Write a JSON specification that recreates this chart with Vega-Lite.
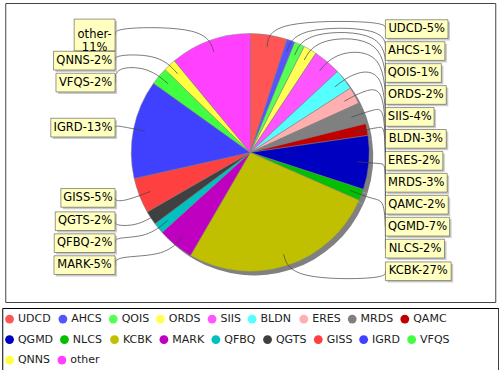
{
  "$schema": "https://vega.github.io/schema/vega-lite/v6.json",
  "padding": {"left": 1, "top": 2, "right": 0, "bottom": 0},
  "background": "white",
  "config": {"font": "DejaVu Sans", "concat": {"spacing": 4}},
  "center": true,
  "datasets": {
    "pie": [
      {"cat": "UDCD", "value": 5.0, "label": "UDCD-5%"},
      {"cat": "AHCS", "value": 1.1, "label": "AHCS-1%"},
      {"cat": "QOIS", "value": 1.4, "label": "QOIS-1%"},
      {"cat": "ORDS", "value": 1.8, "label": "ORDS-2%"},
      {"cat": "SIIS", "value": 3.8, "label": "SIIS-4%"},
      {"cat": "BLDN", "value": 2.8, "label": "BLDN-3%"},
      {"cat": "ERES", "value": 2.3, "label": "ERES-2%"},
      {"cat": "MRDS", "value": 2.9, "label": "MRDS-3%"},
      {"cat": "QAMC", "value": 1.6, "label": "QAMC-2%"},
      {"cat": "QGMD", "value": 7.3, "label": "QGMD-7%"},
      {"cat": "NLCS", "value": 1.55, "label": "NLCS-2%"},
      {"cat": "KCBK", "value": 26.8, "label": "KCBK-27%"},
      {"cat": "MARK", "value": 4.9, "label": "MARK-5%"},
      {"cat": "QFBQ", "value": 1.5, "label": "QFBQ-2%"},
      {"cat": "QGTS", "value": 1.9, "label": "QGTS-2%"},
      {"cat": "GISS", "value": 4.8, "label": "GISS-5%"},
      {"cat": "IGRD", "value": 13.4, "label": "IGRD-13%"},
      {"cat": "VFQS", "value": 2.4, "label": "VFQS-2%"},
      {"cat": "QNNS", "value": 1.7, "label": "QNNS-2%"},
      {"cat": "other", "value": 11.0, "label": "other-\n11%"}
    ]
  },
  "vconcat": [
    {
      "width": 490,
      "height": 299,
      "view": {"stroke": "#444444", "strokeWidth": 1},
      "data": {"name": "pie"},
      "transform": [
        {"window": [{"op": "row_number", "as": "k"}]},
        {"joinaggregate": [{"op": "sum", "field": "value", "as": "total"}]},
        {"window": [{"op": "sum", "field": "value", "as": "cum"}], "sort": [{"field": "k"}], "frame": [null, 0]},
        {"calculate": "2*PI*(datum.cum - datum.value/2)/datum.total", "as": "ang"},
        {"calculate": "sin(datum.ang)", "as": "sx"},
        {"calculate": "cos(datum.ang)", "as": "cy"},
        {"calculate": "datum.sx >= 0 ? 1 : -1", "as": "side"},
        {"calculate": "-1.05*datum.cy", "as": "d"},
        {"window": [{"op": "row_number", "as": "rn"}], "groupby": ["side"], "sort": [{"field": "d", "order": "ascending"}]},
        {"calculate": "datum.d - (datum.rn-1)*0.1845", "as": "t"},
        {"window": [{"op": "max", "field": "t", "as": "m"}], "groupby": ["side"], "sort": [{"field": "d", "order": "ascending"}], "frame": [null, 0]},
        {"calculate": "-((datum.rn-1)*0.1845 + datum.m)", "as": "ly"},
        {"calculate": "split(datum.label, '\\n')[0]", "as": "l1"},
        {"calculate": "length(split(datum.label, '\\n')) > 1 ? split(datum.label, '\\n')[1] : ''", "as": "l2"},
        {"calculate": "length(split(datum.label, '\\n'))", "as": "nl"},
        {"calculate": "0.72*length(datum.l1) + 0.23*(length(datum.l1)-length(replace(datum.l1, regexp('%','g'), ''))) - 0.425*(length(datum.l1)-length(replace(datum.l1, regexp('I','g'), ''))) - 0.36*(length(datum.l1)-length(replace(datum.l1, regexp('-','g'), ''))) - 0.085*(length(datum.l1)-length(replace(datum.l1, regexp('[0-9]','g'), ''))) - 0.1*(length(datum.l1)-length(replace(datum.l1, regexp('[a-z]','g'), ''))) - 0.3*(length(datum.l1)-length(replace(datum.l1, regexp('[tr]','g'), ''))) + 0.06*(length(datum.l1)-length(replace(datum.l1, regexp('[MOQGDNU]','g'), ''))) + 0.08*(length(datum.l1)-length(replace(datum.l1, regexp('M','g'), ''))) - 0.09*(length(datum.l1)-length(replace(datum.l1, regexp('[FLESKT]','g'), '')))", "as": "e1"},
        {"calculate": "0.72*length(datum.l2) + 0.23*(length(datum.l2)-length(replace(datum.l2, regexp('%','g'), ''))) - 0.425*(length(datum.l2)-length(replace(datum.l2, regexp('I','g'), ''))) - 0.36*(length(datum.l2)-length(replace(datum.l2, regexp('-','g'), ''))) - 0.085*(length(datum.l2)-length(replace(datum.l2, regexp('[0-9]','g'), ''))) - 0.1*(length(datum.l2)-length(replace(datum.l2, regexp('[a-z]','g'), ''))) - 0.3*(length(datum.l2)-length(replace(datum.l2, regexp('[tr]','g'), ''))) + 0.06*(length(datum.l2)-length(replace(datum.l2, regexp('[MOQGDNU]','g'), ''))) + 0.08*(length(datum.l2)-length(replace(datum.l2, regexp('M','g'), ''))) - 0.09*(length(datum.l2)-length(replace(datum.l2, regexp('[FLESKT]','g'), '')))", "as": "e2"},
        {"calculate": "(max(datum.e1, datum.e2)*11.5 + (datum.nl > 1 ? 8 : 5))/119", "as": "w"},
        {"calculate": "(datum.nl*13 + 5.7)/119", "as": "h"},
        {"calculate": "datum.side*1.136", "as": "bx1"},
        {"calculate": "datum.side*1.136 + datum.side*datum.w", "as": "bx2"},
        {"calculate": "datum.side*1.136 + datum.side*datum.w/2", "as": "tx"},
        {"calculate": "datum.ly - datum.h/2", "as": "by1"},
        {"calculate": "datum.ly + datum.h/2", "as": "by2"}
      ],
      "layer": [
        {
          "mark": {"type": "arc", "outerRadius": 119, "color": "#808080", "xOffset": 4, "yOffset": 4},
          "encoding": {
            "theta": {"field": "value", "type": "quantitative", "stack": true},
            "order": {"field": "k", "type": "quantitative"}
          }
        },
        {
          "mark": {"type": "arc", "outerRadius": 119, "stroke": "#808080", "strokeWidth": 0.5},
          "encoding": {
            "theta": {"field": "value", "type": "quantitative", "stack": true},
            "order": {"field": "k", "type": "quantitative"},
            "color": {
              "field": "cat",
              "type": "nominal",
              "scale": {
                "domain": ["UDCD", "AHCS", "QOIS", "ORDS", "SIIS", "BLDN", "ERES", "MRDS", "QAMC", "QGMD", "NLCS", "KCBK", "MARK", "QFBQ", "QGTS", "GISS", "IGRD", "VFQS", "QNNS", "other"],
                "range": ["#FF5555", "#5555FF", "#55FF55", "#FFFF55", "#FF55FF", "#55FFFF", "#FFAFAF", "#808080", "#C00000", "#0000C0", "#00C000", "#C0C000", "#C000C0", "#00C0C0", "#404040", "#FF4040", "#4040FF", "#40FF40", "#FFFF40", "#FF40FF"]
              },
              "legend": null
            }
          }
        },
        {
          "transform": [
            {"calculate": "[0.9*datum.sx, 1.12*datum.sx, datum.side*1.136, datum.side*1.136]", "as": "px"},
            {"calculate": "[0.9*datum.cy, 1.12*datum.cy, 1.12*datum.cy, datum.ly]", "as": "py"},
            {"flatten": ["px", "py"]},
            {"window": [{"op": "row_number", "as": "pi"}], "groupby": ["cat"]}
          ],
          "mark": {"type": "line", "interpolate": "basis", "stroke": "#444444", "strokeWidth": 0.7},
          "encoding": {
            "x": {"field": "px", "type": "quantitative", "scale": {"domain": [-2.0588, 2.0588], "nice": false, "zero": false}, "axis": null},
            "y": {"field": "py", "type": "quantitative", "scale": {"domain": [-1.2563, 1.2563], "nice": false, "zero": false}, "axis": null},
            "detail": {"field": "cat", "type": "nominal"},
            "order": {"field": "pi", "type": "quantitative"}
          }
        },
        {
          "mark": {"type": "rect", "fill": "#979797", "opacity": 0.5, "xOffset": 2, "x2Offset": 2, "yOffset": 2, "y2Offset": 2},
          "encoding": {
            "x": {"field": "bx1", "type": "quantitative", "scale": {"domain": [-2.0588, 2.0588], "nice": false, "zero": false}, "axis": null},
            "x2": {"field": "bx2"},
            "y": {"field": "by1", "type": "quantitative", "scale": {"domain": [-1.2563, 1.2563], "nice": false, "zero": false}, "axis": null},
            "y2": {"field": "by2"}
          }
        },
        {
          "mark": {"type": "rect", "fill": "#FFFFC0", "stroke": "#333333", "strokeWidth": 0.5},
          "encoding": {
            "x": {"field": "bx1", "type": "quantitative", "scale": {"domain": [-2.0588, 2.0588], "nice": false, "zero": false}, "axis": null},
            "x2": {"field": "bx2"},
            "y": {"field": "by1", "type": "quantitative", "scale": {"domain": [-1.2563, 1.2563], "nice": false, "zero": false}, "axis": null},
            "y2": {"field": "by2"}
          }
        },
        {
          "mark": {"type": "text", "fontSize": 11.5, "lineBreak": "\n", "lineHeight": 13, "align": "center", "baseline": "middle", "color": "#000000"},
          "encoding": {
            "x": {"field": "tx", "type": "quantitative", "scale": {"domain": [-2.0588, 2.0588], "nice": false, "zero": false}, "axis": null},
            "y": {"field": "ly", "type": "quantitative", "scale": {"domain": [-1.2563, 1.2563], "nice": false, "zero": false}, "axis": null},
            "text": {"field": "label", "type": "nominal"}
          }
        }
      ]
    },
    {
      "width": 496,
      "height": 62,
      "view": {"stroke": "#000000", "strokeWidth": 1},
      "data": {"name": "pie"},
      "transform": [
        {"window": [{"op": "row_number", "as": "k"}]},
        {"calculate": "floor((datum.k-1)/9)", "as": "row"},
        {"calculate": "0.72*length(datum.cat) - 0.425*(length(datum.cat)-length(replace(datum.cat, regexp('I','g'), ''))) - 0.1*(length(datum.cat)-length(replace(datum.cat, regexp('[a-z]','g'), ''))) - 0.3*(length(datum.cat)-length(replace(datum.cat, regexp('[tr]','g'), ''))) + 0.06*(length(datum.cat)-length(replace(datum.cat, regexp('[MOQGDNU]','g'), ''))) + 0.08*(length(datum.cat)-length(replace(datum.cat, regexp('M','g'), ''))) - 0.09*(length(datum.cat)-length(replace(datum.cat, regexp('[FLESKT]','g'), '')))", "as": "em"},
        {"calculate": "datum.em*11 + 19.7", "as": "iw"},
        {"window": [{"op": "sum", "field": "iw", "as": "cw"}], "groupby": ["row"], "sort": [{"field": "k"}], "frame": [null, 0]},
        {"calculate": "datum.cw - datum.iw + 7.3", "as": "sxc"},
        {"calculate": "datum.cw - datum.iw + 15.7", "as": "txs"}
      ],
      "encoding": {
        "y": {"field": "row", "type": "quantitative", "scale": {"domain": [-0.54, 2.484], "reverse": true, "nice": false, "zero": false}, "axis": null}
      },
      "layer": [
        {
          "mark": {"type": "circle", "size": 78, "opacity": 1},
          "encoding": {
            "x": {"field": "sxc", "type": "quantitative", "scale": {"domain": [0, 496], "nice": false, "zero": false}, "axis": null},
            "color": {
              "field": "cat",
              "type": "nominal",
              "scale": {
                "domain": ["UDCD", "AHCS", "QOIS", "ORDS", "SIIS", "BLDN", "ERES", "MRDS", "QAMC", "QGMD", "NLCS", "KCBK", "MARK", "QFBQ", "QGTS", "GISS", "IGRD", "VFQS", "QNNS", "other"],
                "range": ["#FF5555", "#5555FF", "#55FF55", "#FFFF55", "#FF55FF", "#55FFFF", "#FFAFAF", "#808080", "#C00000", "#0000C0", "#00C000", "#C0C000", "#C000C0", "#00C0C0", "#404040", "#FF4040", "#4040FF", "#40FF40", "#FFFF40", "#FF40FF"]
              },
              "legend": null
            }
          }
        },
        {
          "mark": {"type": "text", "align": "left", "baseline": "middle", "fontSize": 11, "color": "#222222"},
          "encoding": {
            "x": {"field": "txs", "type": "quantitative", "scale": {"domain": [0, 496], "nice": false, "zero": false}, "axis": null},
            "text": {"field": "cat", "type": "nominal"}
          }
        }
      ]
    }
  ]
}
